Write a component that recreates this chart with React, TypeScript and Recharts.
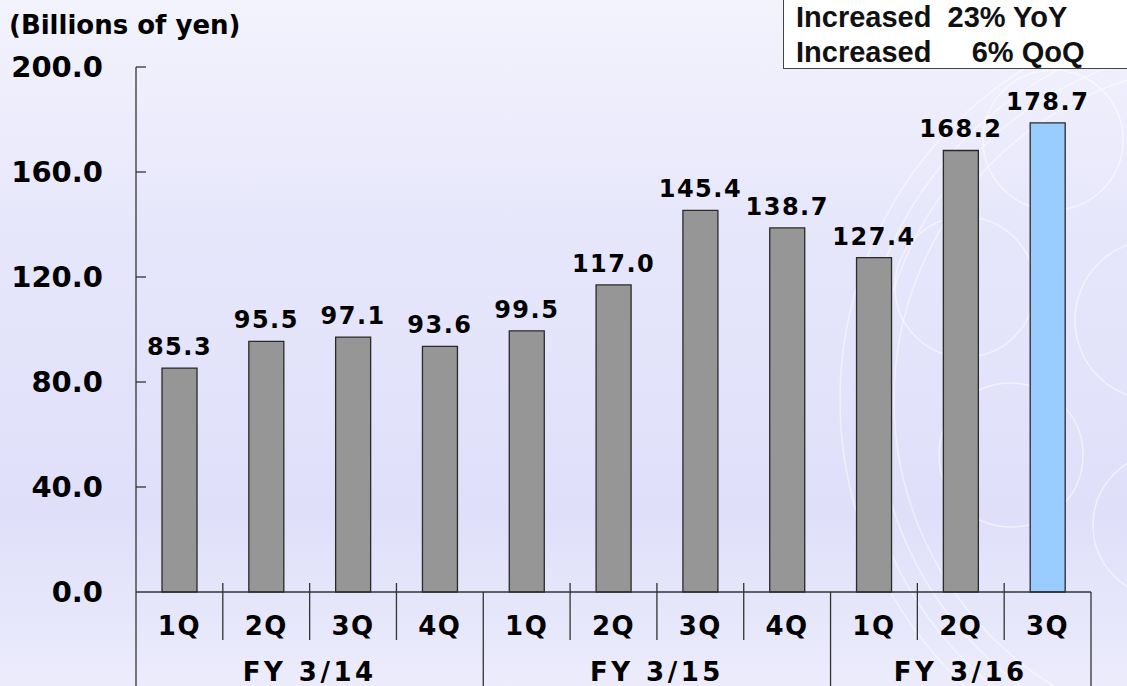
import React from "react";
import { BarChart, Bar, XAxis, YAxis, Cell, LabelList } from "recharts";

const quarters = ["1Q", "2Q", "3Q", "4Q", "1Q", "2Q", "3Q", "4Q", "1Q", "2Q", "3Q"];
const fiscalYears = ["FY 3/14", "FY 3/14", "FY 3/14", "FY 3/14", "FY 3/15", "FY 3/15", "FY 3/15", "FY 3/15", "FY 3/16", "FY 3/16", "FY 3/16"];
const sales = [85.3, 95.5, 97.1, 93.6, 99.5, 117.0, 145.4, 138.7, 127.4, 168.2, 178.7];
const yTicks = [0, 40, 80, 120, 160, 200];
const unitLabel = "(Billions of yen)";
const noteLines = ["Increased  23% YoY", "Increased     6% QoQ"];

const data = quarters.map((q, i) => ({ id: fiscalYears[i] + " " + q, quarter: q, fy: fiscalYears[i], sales: sales[i] }));

const W = 1127;
const H = 686;
const Y_AXIS_W = 136;
const RIGHT = 36;
const X_AXIS_H = 94;
const STEP = (W - Y_AXIS_W - RIGHT) / data.length;
const FONT = "'DejaVu Sans', Verdana, sans-serif";

function CategoryTick(props: any) {
  const { x, y, payload } = props;
  const i = payload.index;
  const d = data[i];
  const groupEnd = i === data.length - 1 || data[i + 1].fy !== d.fy;
  const groupStart = i === 0 || data[i - 1].fy !== d.fy;
  const groupLen = data.filter((r) => r.fy === d.fy).length;
  const right = x + STEP / 2;
  const left = x - STEP / 2;
  return (
    <g>
      <text x={x} y={y + 43} textAnchor="middle" fontFamily={FONT} fontWeight={700} fontSize={26} letterSpacing={1.5} fill="#000">
        {d.quarter}
      </text>
      <line x1={right} x2={right} y1={groupEnd ? y : y - 9} y2={groupEnd ? y + X_AXIS_H : y + 48} stroke="#333" strokeWidth={1.3} />
      {i === 0 && <line x1={left} x2={left} y1={y} y2={y + X_AXIS_H} stroke="#333" strokeWidth={1.3} />}
      {groupStart && (
        <text x={left + (groupLen * STEP) / 2} y={y + 89} textAnchor="middle" fontFamily={FONT} fontWeight={700} fontSize={26} letterSpacing={3.5} fill="#000">
          {d.fy}
        </text>
      )}
    </g>
  );
}

function ValueTick(props: any) {
  const { x, y, payload } = props;
  return (
    <g>
      <text x={x} y={y + 10} textAnchor="end" fontFamily={FONT} fontWeight={700} fontSize={29} fill="#000">
        {payload.value.toFixed(1)}
      </text>
      {payload.value !== 0 && <line x1={x + 33} x2={x + 43} y1={y} y2={y} stroke="#333" strokeWidth={1.3} />}
    </g>
  );
}

function ValueLabel(props: any) {
  const { x, y, width, value } = props;
  return (
    <text x={x + width / 2} y={y - 13} textAnchor="middle" fontFamily={FONT} fontWeight={700} fontSize={24} letterSpacing={1.5} fill="#000">
      {Number(value).toFixed(1)}
    </text>
  );
}

function Decor() {
  const rings = [390, 372, 354, 336];
  const bubbles = [
    [965, 287, 70],
    [1011, 455, 72],
    [1053, 140, 70],
    [1155, 320, 80],
    [1165, 525, 72],
  ];
  return (
    <svg width={W} height={H} style={{ position: "absolute", left: 0, top: 0 }}>
      {rings.map((r) => (
        <circle key={r} cx={1230} cy={400} r={r} fill="none" stroke="#ffffff" strokeOpacity={0.5} strokeWidth={1.5} />
      ))}
      {bubbles.map(([cx, cy, r]) => (
        <circle key={cx + "-" + cy} cx={cx} cy={cy} r={r} fill="none" stroke="#ffffff" strokeOpacity={0.55} strokeWidth={1.5} />
      ))}
    </svg>
  );
}

export default function App() {
  return (
    <div
      style={{
        position: "absolute",
        left: 0,
        top: 0,
        width: W,
        height: H,
        overflow: "hidden",
        background: "linear-gradient(to bottom, #f3f3fd 0%, #e6e6fb 35%, #dfdffa 75%, #ececfc 100%)",
      }}
    >
      <Decor />
      <div style={{ position: "absolute", left: 9, top: 9, fontFamily: FONT, fontWeight: 700, fontSize: 26, lineHeight: "32px", color: "#000" }}>
        {unitLabel}
      </div>
      <div
        style={{
          position: "absolute",
          left: 783,
          top: -2,
          width: 360,
          height: 71,
          border: "1.5px solid #444",
          background: "#fff",
          boxSizing: "border-box",
          paddingLeft: 12,
          paddingTop: 1,
          fontFamily: "'Liberation Sans', Arial, sans-serif",
          fontWeight: 700,
          fontSize: 29,
          lineHeight: "35px",
          color: "#111",
          whiteSpace: "pre",
          zIndex: 2,
        }}
      >
        {noteLines.map((l) => (
          <div key={l}>{l}</div>
        ))}
      </div>
      <BarChart width={W} height={H} data={data} margin={{ top: 67, right: RIGHT, left: 0, bottom: 0 }} barSize={35}>
        <XAxis
          dataKey="id"
          height={X_AXIS_H}
          interval={0}
          tickLine={false}
          tickSize={0}
          tickMargin={0}
          axisLine={{ stroke: "#333", strokeWidth: 1.3 }}
          tick={<CategoryTick />}
        />
        <YAxis
          width={Y_AXIS_W}
          domain={[0, 200]}
          ticks={yTicks}
          interval={0}
          tickLine={false}
          tickSize={0}
          tickMargin={33}
          axisLine={{ stroke: "#333", strokeWidth: 1.3 }}
          tick={<ValueTick />}
        />
        <Bar dataKey="sales" fill="#969696" stroke="#2a2a2a" strokeWidth={1.3} isAnimationActive={false}>
          {data.map((d, i) => (
            <Cell key={d.id} fill={i === data.length - 1 ? "#99ccff" : "#969696"} />
          ))}
          <LabelList dataKey="sales" content={<ValueLabel />} />
        </Bar>
      </BarChart>
    </div>
  );
}
